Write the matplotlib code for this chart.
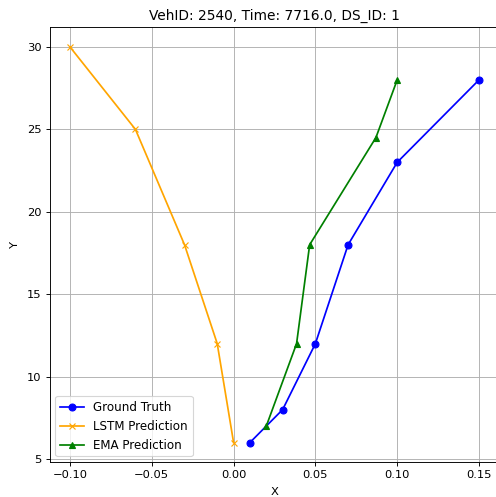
import matplotlib
matplotlib.use("Agg")
import matplotlib.pyplot as plt

gt_x = [0.01, 0.03, 0.05, 0.07, 0.10, 0.15]
gt_y = [6, 8, 12, 18, 23, 28]
lstm_x = [-0.10, -0.06, -0.03, -0.01, 0.0]
lstm_y = [30, 25, 18, 12, 6]
ema_x = [0.02, 0.0385, 0.0465, 0.087, 0.10]
ema_y = [7, 12, 18, 24.5, 28]

DPI = 496 / 6.0
fig = plt.figure(figsize=(6.0, 497 / DPI), dpi=DPI)
ax = fig.add_axes([0.0999, 0.0698, 0.907, 0.8755])
ax.plot(gt_x, gt_y, marker='o', color='blue', label='Ground Truth')
ax.plot(lstm_x, lstm_y, marker='x', color='orange', label='LSTM Prediction')
ax.plot(ema_x, ema_y, marker='^', color='green', label='EMA Prediction')
ax.set_xlabel('X', labelpad=6)
ax.set_ylabel('Y', labelpad=6)
ax.set_title('VehID: 2540, Time: 7716.0, DS_ID: 1')
ax.grid(True)
ax.legend(loc='lower left', fontsize=10.3)
fig.savefig('out.png', dpi=DPI)
